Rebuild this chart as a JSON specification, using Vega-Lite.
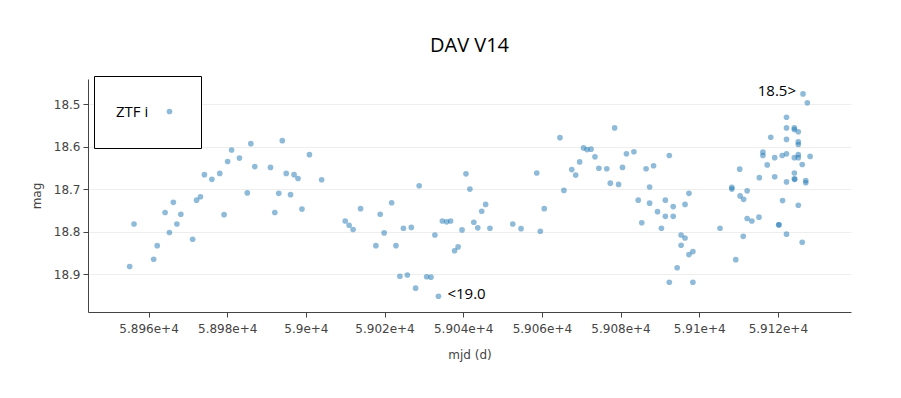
{
  "$schema": "https://vega.github.io/schema/vega-lite/v6.json",
  "width": 763,
  "height": 233,
  "autosize": "none",
  "padding": {"left": 88, "top": 79, "right": 50, "bottom": 86},
  "background": "white",
  "title": {"text": "DAV V14", "font": "Open Sans", "fontSize": 20, "fontWeight": "normal", "color": "#000", "anchor": "middle", "baseline": "alphabetic", "offset": 4},
  "config": {
    "view": {"stroke": null},
    "axis": {"labelFont": "DejaVu Sans", "labelFontSize": 12, "labelColor": "#444", "titleFont": "DejaVu Sans", "titleFontSize": 12, "titleFontWeight": "normal", "titleColor": "#444", "domainColor": "#444", "tickColor": "#444", "tickSize": 5}
  },
  "datasets": {
    "obs": [
      {"mjd": 58956.3, "mag": 18.782}, {"mjd": 58955.2, "mag": 18.882}, {"mjd": 58961.3, "mag": 18.865}, {"mjd": 58962.2, "mag": 18.833},
      {"mjd": 58965.3, "mag": 18.802}, {"mjd": 58964.2, "mag": 18.755}, {"mjd": 58966.3, "mag": 18.731}, {"mjd": 58967.2, "mag": 18.782},
      {"mjd": 58968.2, "mag": 18.759}, {"mjd": 58971.2, "mag": 18.818}, {"mjd": 58972.2, "mag": 18.726}, {"mjd": 58973.2, "mag": 18.718},
      {"mjd": 58974.2, "mag": 18.666}, {"mjd": 58976.1, "mag": 18.677}, {"mjd": 58978.1, "mag": 18.663}, {"mjd": 58979.2, "mag": 18.76},
      {"mjd": 58980.1, "mag": 18.635}, {"mjd": 58981.1, "mag": 18.608}, {"mjd": 58983.1, "mag": 18.627}, {"mjd": 58985.1, "mag": 18.709},
      {"mjd": 58986.0, "mag": 18.593}, {"mjd": 58987.0, "mag": 18.647}, {"mjd": 58991.0, "mag": 18.649}, {"mjd": 58992.1, "mag": 18.755},
      {"mjd": 58993.1, "mag": 18.71}, {"mjd": 58994.0, "mag": 18.586}, {"mjd": 58995.0, "mag": 18.663}, {"mjd": 58996.1, "mag": 18.713},
      {"mjd": 58997.0, "mag": 18.666}, {"mjd": 58998.0, "mag": 18.675}, {"mjd": 58999.0, "mag": 18.747}, {"mjd": 59000.9, "mag": 18.619},
      {"mjd": 59004.0, "mag": 18.678}, {"mjd": 59010.0, "mag": 18.775}, {"mjd": 59011.0, "mag": 18.785}, {"mjd": 59012.0, "mag": 18.795},
      {"mjd": 59013.9, "mag": 18.746}, {"mjd": 59017.8, "mag": 18.833}, {"mjd": 59018.9, "mag": 18.759}, {"mjd": 59019.9, "mag": 18.803},
      {"mjd": 59021.8, "mag": 18.732}, {"mjd": 59022.9, "mag": 18.833}, {"mjd": 59023.9, "mag": 18.905}, {"mjd": 59024.8, "mag": 18.792},
      {"mjd": 59025.8, "mag": 18.902}, {"mjd": 59026.8, "mag": 18.79}, {"mjd": 59027.9, "mag": 18.933}, {"mjd": 59028.8, "mag": 18.692},
      {"mjd": 59030.7, "mag": 18.906}, {"mjd": 59031.8, "mag": 18.907}, {"mjd": 59032.8, "mag": 18.808}, {"mjd": 59033.7, "mag": 18.952},
      {"mjd": 59034.7, "mag": 18.775}, {"mjd": 59035.8, "mag": 18.777}, {"mjd": 59036.8, "mag": 18.775}, {"mjd": 59037.8, "mag": 18.845},
      {"mjd": 59038.7, "mag": 18.836}, {"mjd": 59039.7, "mag": 18.796}, {"mjd": 59040.7, "mag": 18.664}, {"mjd": 59041.7, "mag": 18.7},
      {"mjd": 59042.7, "mag": 18.778}, {"mjd": 59043.7, "mag": 18.791}, {"mjd": 59044.7, "mag": 18.752}, {"mjd": 59045.7, "mag": 18.736},
      {"mjd": 59046.8, "mag": 18.792}, {"mjd": 59052.6, "mag": 18.782}, {"mjd": 59054.7, "mag": 18.793}, {"mjd": 59058.7, "mag": 18.662},
      {"mjd": 59059.6, "mag": 18.799}, {"mjd": 59060.6, "mag": 18.746}, {"mjd": 59064.6, "mag": 18.579}, {"mjd": 59065.6, "mag": 18.703},
      {"mjd": 59067.6, "mag": 18.654}, {"mjd": 59068.6, "mag": 18.667}, {"mjd": 59069.6, "mag": 18.636}, {"mjd": 59070.6, "mag": 18.603},
      {"mjd": 59071.5, "mag": 18.607}, {"mjd": 59072.5, "mag": 18.606}, {"mjd": 59073.5, "mag": 18.624}, {"mjd": 59074.5, "mag": 18.651},
      {"mjd": 59076.5, "mag": 18.652}, {"mjd": 59077.4, "mag": 18.686}, {"mjd": 59078.5, "mag": 18.556}, {"mjd": 59079.5, "mag": 18.689},
      {"mjd": 59080.5, "mag": 18.649}, {"mjd": 59081.5, "mag": 18.617}, {"mjd": 59083.4, "mag": 18.612}, {"mjd": 59084.5, "mag": 18.726},
      {"mjd": 59085.4, "mag": 18.779}, {"mjd": 59086.5, "mag": 18.652}, {"mjd": 59087.4, "mag": 18.695}, {"mjd": 59087.4, "mag": 18.733},
      {"mjd": 59088.4, "mag": 18.645}, {"mjd": 59089.4, "mag": 18.753}, {"mjd": 59090.4, "mag": 18.792}, {"mjd": 59091.4, "mag": 18.726},
      {"mjd": 59091.4, "mag": 18.764}, {"mjd": 59092.4, "mag": 18.621}, {"mjd": 59092.4, "mag": 18.919}, {"mjd": 59093.4, "mag": 18.741},
      {"mjd": 59093.4, "mag": 18.764}, {"mjd": 59094.4, "mag": 18.885}, {"mjd": 59095.4, "mag": 18.808}, {"mjd": 59095.4, "mag": 18.832},
      {"mjd": 59096.4, "mag": 18.815}, {"mjd": 59096.4, "mag": 18.736}, {"mjd": 59097.4, "mag": 18.71}, {"mjd": 59097.4, "mag": 18.854},
      {"mjd": 59098.4, "mag": 18.847}, {"mjd": 59098.4, "mag": 18.919}, {"mjd": 59105.3, "mag": 18.792}, {"mjd": 59108.3, "mag": 18.696},
      {"mjd": 59108.3, "mag": 18.7}, {"mjd": 59109.3, "mag": 18.866}, {"mjd": 59110.3, "mag": 18.653}, {"mjd": 59110.4, "mag": 18.716},
      {"mjd": 59111.2, "mag": 18.811}, {"mjd": 59111.3, "mag": 18.724}, {"mjd": 59112.2, "mag": 18.704}, {"mjd": 59112.2, "mag": 18.769},
      {"mjd": 59113.4, "mag": 18.775}, {"mjd": 59115.2, "mag": 18.766}, {"mjd": 59115.3, "mag": 18.673}, {"mjd": 59116.2, "mag": 18.613},
      {"mjd": 59116.2, "mag": 18.621}, {"mjd": 59117.3, "mag": 18.643}, {"mjd": 59118.2, "mag": 18.578}, {"mjd": 59119.2, "mag": 18.626},
      {"mjd": 59119.2, "mag": 18.671}, {"mjd": 59120.2, "mag": 18.784}, {"mjd": 59120.3, "mag": 18.784}, {"mjd": 59121.1, "mag": 18.621},
      {"mjd": 59121.2, "mag": 18.727}, {"mjd": 59122.2, "mag": 18.531}, {"mjd": 59122.2, "mag": 18.556}, {"mjd": 59122.2, "mag": 18.583},
      {"mjd": 59122.2, "mag": 18.617}, {"mjd": 59122.2, "mag": 18.683}, {"mjd": 59122.2, "mag": 18.806}, {"mjd": 59124.2, "mag": 18.556},
      {"mjd": 59124.2, "mag": 18.56}, {"mjd": 59124.2, "mag": 18.626}, {"mjd": 59124.2, "mag": 18.662}, {"mjd": 59124.2, "mag": 18.676},
      {"mjd": 59124.3, "mag": 18.677}, {"mjd": 59125.2, "mag": 18.565}, {"mjd": 59125.2, "mag": 18.589}, {"mjd": 59125.2, "mag": 18.595},
      {"mjd": 59125.2, "mag": 18.619}, {"mjd": 59125.2, "mag": 18.626}, {"mjd": 59125.2, "mag": 18.738}, {"mjd": 59126.2, "mag": 18.642},
      {"mjd": 59126.2, "mag": 18.825}, {"mjd": 59126.4, "mag": 18.476}, {"mjd": 59127.1, "mag": 18.68}, {"mjd": 59127.1, "mag": 18.685},
      {"mjd": 59127.5, "mag": 18.497}, {"mjd": 59128.2, "mag": 18.623}
    ]
  },
  "layer": [
    {
      "data": {"name": "obs"},
      "mark": {"type": "point", "filled": true, "size": 32, "opacity": 0.5, "strokeWidth": 0},
      "encoding": {
        "x": {"field": "mjd", "type": "quantitative", "scale": {"domain": [58944.6, 59138.6], "nice": false, "zero": false},
              "axis": {"values": [58960, 58980, 59000, 59020, 59040, 59060, 59080, 59100, 59120], "format": ".4~e", "grid": false, "title": "mjd (d)", "labelPadding": 6, "titlePadding": 15}},
        "y": {"field": "mag", "type": "quantitative", "scale": {"domain": [18.441, 18.989], "nice": false, "zero": false, "reverse": true},
              "axis": {"values": [18.5, 18.6, 18.7, 18.8, 18.9], "format": ".1f", "grid": true, "gridColor": "#eeeeee", "title": "mag", "labelPadding": 3, "titlePadding": 10}},
        "color": {"datum": "ZTF i", "type": "nominal", "scale": {"range": ["#1f77b4"]},
                  "legend": {"title": null, "orient": "none", "legendX": 6, "legendY": -3, "strokeColor": "#000", "fillColor": "#fff", "padding": 28,
                             "labelFont": "Open Sans", "labelFontSize": 15, "labelColor": "#000", "labelOffset": -61, "symbolOffset": 40,
                             "symbolType": "circle", "symbolSize": 32, "symbolOpacity": 0.5, "symbolStrokeWidth": 0}}
      }
    },
    {
      "data": {"values": [{"mjd": 59126.4, "mag": 18.476, "label": "18.5>"}]},
      "mark": {"type": "text", "align": "right", "baseline": "middle", "dx": -7, "dy": -3, "font": "Open Sans", "fontSize": 15, "color": "#000"},
      "encoding": {"x": {"field": "mjd", "type": "quantitative"}, "y": {"field": "mag", "type": "quantitative"}, "text": {"field": "label"}}
    },
    {
      "data": {"values": [{"mjd": 59033.7, "mag": 18.952, "label": "<19.0"}]},
      "mark": {"type": "text", "align": "left", "baseline": "middle", "dx": 9, "dy": -2, "font": "Open Sans", "fontSize": 15, "color": "#000"},
      "encoding": {"x": {"field": "mjd", "type": "quantitative"}, "y": {"field": "mag", "type": "quantitative"}, "text": {"field": "label"}}
    }
  ]
}
